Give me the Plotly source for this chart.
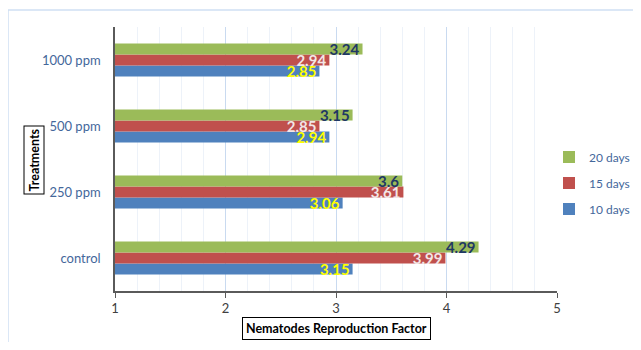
import plotly.graph_objects as go

categories = ["control", "250 ppm", "500 ppm", "1000 ppm"]
series_names = ["10 days", "15 days", "20 days"]
days10 = [3.15, 3.06, 2.94, 2.85]
days15 = [3.99, 3.61, 2.85, 2.94]
days20 = [4.29, 3.6, 3.15, 3.24]
x_ticks = [1, 2, 3, 4, 5]

colors = ["#4f81bd", "#c0504d", "#9bbb59"]
label_colors = ["#ffff00", "#f2e6e6", "#1f3864"]
values = [days10, days15, days20]
legend_ranks = [3, 2, 1]

L, T, PW, PH = 107, 19, 442, 264
W, H = 633, 334

fig = go.Figure()
for name, vals, c, lc, rk in zip(series_names, values, colors, label_colors, legend_ranks):
    fig.add_trace(go.Bar(
        y=categories, x=vals, name=name, orientation="h", legendgroup=name,
        legendrank=rk,
        marker=dict(color=c, line=dict(width=0)),
        text=[f"{v:g}" for v in vals],
        textposition="inside", insidetextanchor="end",
        constraintext="none",
        textfont=dict(family="Lato", size=15, color=lc, weight="bold"),
    ))

fig.update_layout(
    width=W, height=H,
    margin=dict(l=L, r=W - L - PW, t=T, b=H - T - PH, autoexpand=False),
    paper_bgcolor="white", plot_bgcolor="white",
    barmode="group", bargap=0.5, bargroupgap=0,
    font=dict(family="Lato", size=13, color="#44679b"),
    showlegend=True,
    legend=dict(x=(541 - L) / PW, y=(T + PH - 175) / PH, xanchor="left", yanchor="middle",
                traceorder="grouped", font=dict(size=12, color="#44679b"),
                itemwidth=30, tracegroupgap=7, bgcolor="rgba(0,0,0,0)"),
    xaxis=dict(range=[1, 5], tickvals=x_ticks, showgrid=True, gridcolor="#c9daf0",
               gridwidth=1, showline=True, linecolor="#5a5a5a", linewidth=1.5,
               ticks="outside", ticklen=5, tickcolor="#5a5a5a", automargin=False,
               tickfont=dict(color="#404040", size=13), zeroline=False,
               minor=dict(dtick=0.2, showgrid=True, gridcolor="#edf2f9")),
    yaxis=dict(showline=True, linecolor="#5a5a5a", linewidth=1.5, automargin=False,
               tickfont=dict(color="#44679b", size=13), ticks="",
               showgrid=False, ticklabelstandoff=10),
    shapes=[dict(type="rect", xref="paper", yref="paper",
                 x0=(0 - L) / PW, x1=1.3, y0=-0.4, y1=1 + (T - 2) / PH,
                 line=dict(color="#cfe0f3", width=1.5), layer="below")],
    annotations=[
        dict(text="<b>Treatments</b>", xref="paper", yref="paper",
             x=(25.5 - L) / PW, y=(T + PH - 152) / PH, textangle=-90,
             showarrow=False, bordercolor="black", borderwidth=1, borderpad=2,
             font=dict(size=12.5, color="black", family="Lato"),
             xanchor="center", yanchor="middle"),
        dict(text="<b>Nematodes Reproduction Factor</b>", xref="paper", yref="paper",
             x=0.5, y=(T + PH - 320.5) / PH, showarrow=False,
             bordercolor="black", borderwidth=1, borderpad=3,
             font=dict(size=12.5, color="black", family="Lato"),
             xanchor="center", yanchor="middle"),
    ],
)

fig.write_html("out.html")
